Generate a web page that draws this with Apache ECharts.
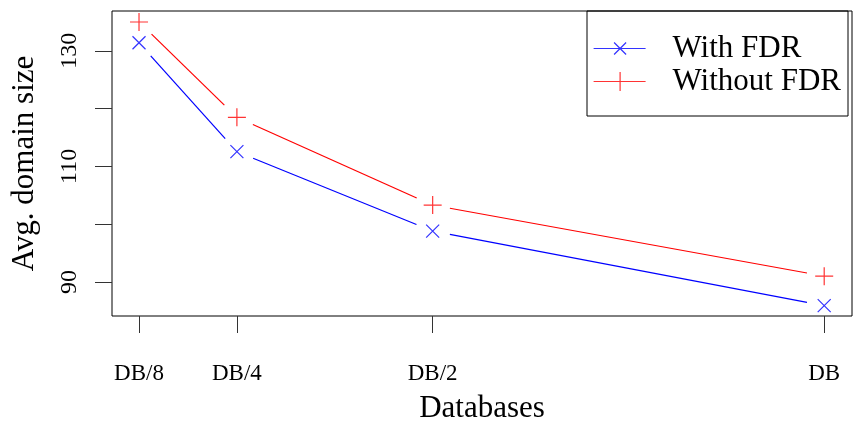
<!DOCTYPE html>
<html>
<head>
<meta charset="utf-8">
<script src="https://cdn.jsdelivr.net/npm/echarts@6/dist/echarts.min.js"></script>
<style>
html,body{margin:0;padding:0;background:#fff;}
#main{width:853px;height:426px;}
</style>
</head>
<body>
<div id="main"></div>
<script>
// Data
const xValues = [0.125, 0.25, 0.5, 1];
const xLabels = ['DB/8', 'DB/4', 'DB/2', 'DB'];
const withFDR = [131.4, 112.55, 98.8, 85.9];
const withoutFDR = [135.0, 118.5, 103.3, 91.0];
const yTickValues = [90, 100, 110, 120, 130];
const yLabelValues = [90, 110, 130];
const seriesNames = ['With FDR', 'Without FDR'];

const FONT = 'Liberation Serif';
const GAP = 17.5;
const BLUE = '#0000ff';
const RED = '#ff0000';

function pts(ys) { return xValues.map((x, i) => [x, ys[i]]); }
function segs(ys) {
  const out = [];
  for (let i = 0; i < xValues.length - 1; i++) out.push([xValues[i], ys[i], xValues[i + 1], ys[i + 1]]);
  return out;
}
function segRender(color) {
  return function (params, api) {
    const a = api.coord([api.value(0), api.value(1)]);
    const b = api.coord([api.value(2), api.value(3)]);
    const dx = b[0] - a[0], dy = b[1] - a[1];
    const len = Math.sqrt(dx * dx + dy * dy);
    if (len <= 2 * GAP) return null;
    const ux = dx / len, uy = dy / len;
    return {
      type: 'line',
      shape: { x1: a[0] + ux * GAP, y1: a[1] + uy * GAP, x2: b[0] - ux * GAP, y2: b[1] - uy * GAP },
      style: { stroke: color, lineWidth: 1.2, fill: null }
    };
  };
}

const crossPath = 'path://M0,0L10,10M10,0L0,10';
const plusPath = 'path://M5,0L5,10M0,5L10,5';
const legendCross = 'path://M0,0M74,19M0,9.5L52,9.5M20.5,3.5L32.5,15.5M32.5,3.5L20.5,15.5';
const legendPlus = 'path://M0,0M74,19M0,9.5L52,9.5M26.5,0L26.5,19';

const chart = echarts.init(document.getElementById('main'), null, { renderer: 'canvas' });
chart.setOption({
  animation: false,
  backgroundColor: '#fff',
  textStyle: { fontFamily: FONT },
  grid: {
    left: 112, top: 11, width: 740, height: 305,
    outerBoundsMode: 'none', containLabel: false,
    show: true, borderColor: '#000', borderWidth: 1, backgroundColor: 'transparent'
  },
  legend: {
    left: 587, top: 11,
    orient: 'vertical',
    padding: [21, 7, 18, 6],
    itemGap: 0,
    itemWidth: 74, itemHeight: 19,
    borderColor: '#000', borderWidth: 1,
    textStyle: { fontFamily: FONT, fontSize: 31, color: '#000', lineHeight: 33 },
    data: [
      { name: seriesNames[0], icon: legendCross, itemStyle: { color: BLUE, borderColor: BLUE, borderWidth: 1.2 } },
      { name: seriesNames[1], icon: legendPlus, itemStyle: { color: RED, borderColor: RED, borderWidth: 1.2 } }
    ]
  },
  xAxis: {
    type: 'value', min: 0.0905, max: 1.0355,
    name: 'Databases', nameLocation: 'middle', nameGap: 77,
    nameTextStyle: { fontFamily: FONT, fontSize: 31, color: '#000' },
    axisLine: { show: false },
    splitLine: { show: false },
    axisTick: { show: true, inside: false, length: 17, customValues: xValues, lineStyle: { color: '#333', width: 1 } },
    axisLabel: {
      customValues: xValues, margin: 46, fontFamily: FONT, fontSize: 23, color: '#000',
      formatter: v => { const i = xValues.findIndex(x => Math.abs(x - v) < 1e-9); return i >= 0 ? xLabels[i] : ''; }
    }
  },
  yAxis: {
    type: 'value', min: 84.1, max: 136.9,
    name: 'Avg. domain size', nameLocation: 'middle', nameGap: 72,
    nameTextStyle: { fontFamily: FONT, fontSize: 31, color: '#000' },
    axisLine: { show: false },
    splitLine: { show: false },
    axisTick: { show: true, inside: false, length: 17, customValues: yTickValues, lineStyle: { color: '#333', width: 1 } },
    axisLabel: { customValues: yLabelValues, rotate: 90, margin: 30, fontFamily: FONT, fontSize: 24, color: '#000' }
  },
  series: [
    { type: 'custom', name: 'segA', data: segs(withFDR), encode: { x: [0, 2], y: [1, 3] }, renderItem: segRender(BLUE), silent: true, z: 2 },
    { type: 'custom', name: 'segB', data: segs(withoutFDR), encode: { x: [0, 2], y: [1, 3] }, renderItem: segRender(RED), silent: true, z: 2 },
    { type: 'scatter', name: seriesNames[0], data: pts(withFDR), symbol: crossPath, symbolSize: 13, itemStyle: { color: BLUE, borderColor: BLUE, borderWidth: 1.2 }, z: 3 },
    { type: 'scatter', name: seriesNames[1], data: pts(withoutFDR), symbol: plusPath, symbolSize: 18, itemStyle: { color: RED, borderColor: RED, borderWidth: 1.2 }, z: 3 }
  ]
});
</script>
</body>
</html>
